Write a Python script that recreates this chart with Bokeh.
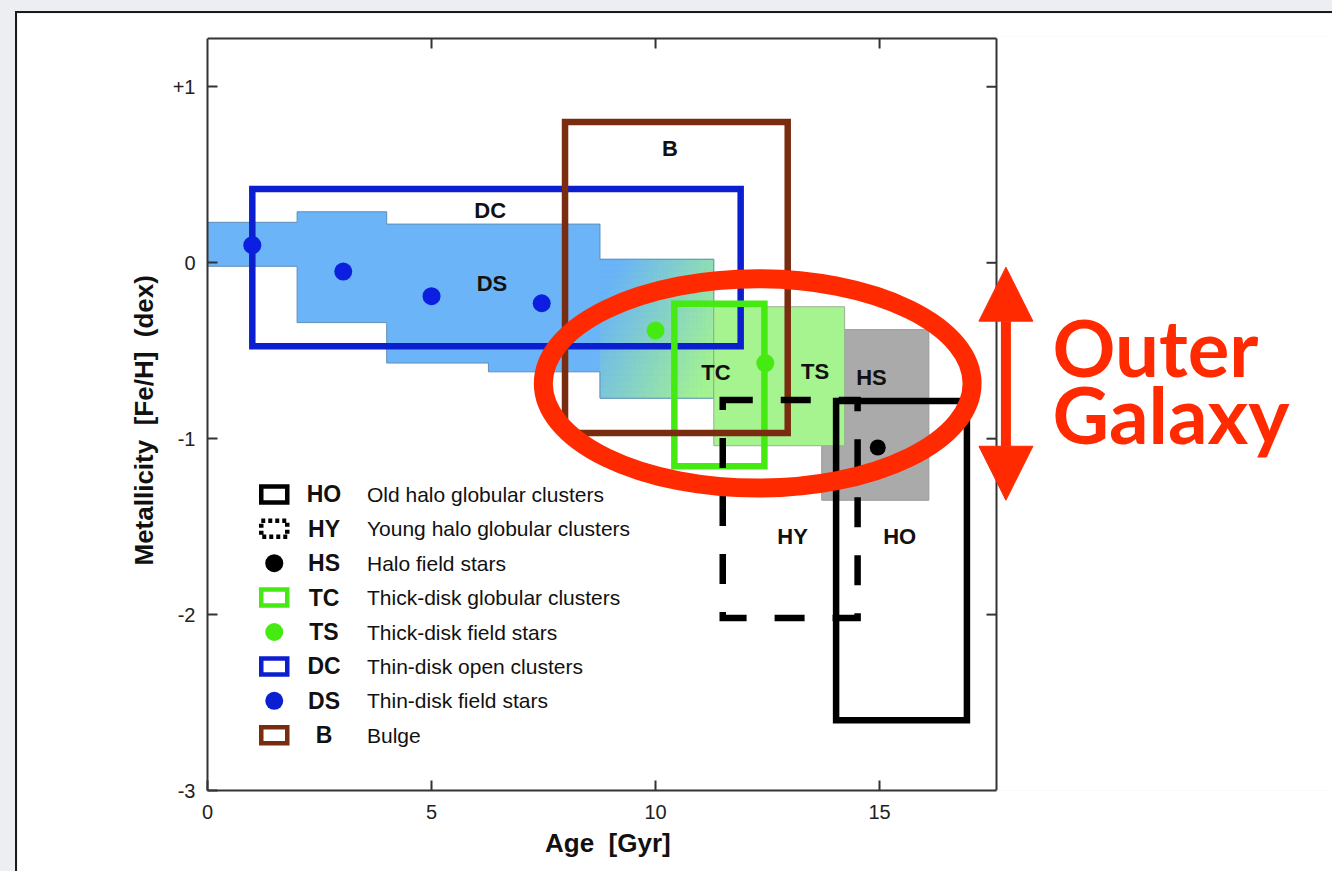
import numpy as np
from bokeh.plotting import figure
from bokeh.models import Range1d, FixedTicker, Arrow, NormalHead, Title
from bokeh.core.properties import value
from bokeh.embed import file_html
from bokeh.resources import INLINE

# ---------------- data ----------------
x_ticks = [0, 5, 10, 15]
y_ticks = [1, 0, -1, -2, -3]
y_tick_labels = ["+1", "0", "-1", "-2", "-3"]
age_axis = [0.0, 17.61]          # chart's age extent (Gyr)
feh_axis = [-3.0, 1.275]         # chart's metallicity extent (dex)

# thin-disk field stars (DS) stepped band
ds_age_edges = [0.0, 2.0, 4.0, 6.27, 8.76, 11.3]
ds_feh_top = [0.23, 0.29, 0.22, 0.22, 0.02]
ds_feh_bottom = [-0.02, -0.34, -0.57, -0.62, -0.77]

# thick-disk field stars (TS) and halo field stars (HS) shaded boxes
ts_box_age = [11.3, 14.22]
ts_box_feh = [-1.04, -0.25]
hs_box_age = [13.71, 16.1]
hs_box_feh = [-1.35, -0.38]

# outlined boxes
box_codes = ["DC", "TC", "B", "HY", "HO"]
box_age_min = [1.0, 10.42, 7.98, 11.5, 14.03]
box_age_max = [11.9, 12.43, 12.95, 14.51, 16.95]
box_feh_min = [-0.475, -1.156, -0.967, -2.02, -2.60]
box_feh_max = [0.42, -0.233, 0.80, -0.78, -0.786]

# points
ds_age = [1.0, 3.03, 5.0, 7.46]
ds_feh = [0.10, -0.05, -0.19, -0.23]
ts_age = [10.0, 12.45]
ts_feh = [-0.385, -0.57]
hs_age = [14.96]
hs_feh = [-1.05]

# region labels
label_names = ["DC", "DS", "B", "TC", "TS", "HS", "HY", "HO"]
label_age = [6.31, 6.35, 10.32, 11.35, 13.56, 14.82, 13.06, 15.45]
label_feh = [0.295, -0.115, 0.652, -0.626, -0.617, -0.655, -1.554, -1.554]

# legend
legend_codes = ["HO", "HY", "HS", "TC", "TS", "DC", "DS", "B"]
legend_texts = ["Old halo globular clusters", "Young halo globular clusters",
                "Halo field stars", "Thick-disk globular clusters",
                "Thick-disk field stars", "Thin-disk open clusters",
                "Thin-disk field stars", "Bulge"]

# annotation
annot_lines = ["Outer", "Galaxy"]
annot_age = 18.86
annot_feh = [-0.48, -0.862]
ellipse_age, ellipse_feh = 12.28, -0.686
ellipse_w, ellipse_h = 9.57, 1.19
arrow_age, arrow_feh_top, arrow_feh_bottom = 17.82, -0.025, -1.35

# ---------------- styles / layout ----------------
RED = "#ff2a00"
BLUE_FILL = (106, 180, 247)
GREEN_FILL = (165, 244, 144)
box_colors = {"DC": "#0c1fd0", "TC": "#45ea12", "B": "#7a2c10", "HY": "#000000", "HO": "#000000"}
box_dash = {"DC": "solid", "TC": "solid", "B": "solid", "HY": "30 28", "HO": "solid"}
legend_kind = {"HO": ("box", "#000000", "solid"), "HY": ("box", "#000000", "4 3"),
               "HS": ("dot", "#000000", None), "TC": ("box", "#45ea12", "solid"),
               "TS": ("dot", "#45ea12", None), "DC": ("box", "#0c1fd0", "solid"),
               "DS": ("dot", "#0c1fd0", None), "B": ("box", "#7a2c10", "solid")}
FONT = "Liberation Sans"
AX = "#333333"

CANVAS_W, CANVAS_H = 1315, 858
LEFT, BOTTOM, TOP = 190, 81, 23
CHART_W, CHART_H = 789, 752            # pixel size of the boxed chart area
FRAME_W = CANVAS_W - LEFT
FRAME_H = CANVAS_H - BOTTOM - TOP
px_x = CHART_W / (age_axis[1] - age_axis[0])
px_y = CHART_H / (feh_axis[1] - feh_axis[0])

p = figure(frame_width=FRAME_W, frame_height=FRAME_H,
           x_range=Range1d(age_axis[0], age_axis[0] + FRAME_W / px_x),
           y_range=Range1d(feh_axis[0], feh_axis[0] + FRAME_H / px_y),
           output_backend="svg", toolbar_location=None,
           min_border_left=LEFT, min_border_right=0,
           min_border_top=TOP, min_border_bottom=BOTTOM,
           background_fill_color="white", border_fill_color="white",
           outline_line_color=None)
p.grid.visible = False

xa, ya = p.xaxis[0], p.yaxis[0]
for ax in (xa, ya):
    ax.major_tick_in = 10
    ax.major_tick_out = 0
    ax.minor_tick_line_color = None
    ax.axis_line_color = AX
    ax.axis_line_width = 2
    ax.major_tick_line_color = AX
    ax.major_tick_line_width = 2
    ax.major_label_text_font = FONT
    ax.major_label_text_font_size = "20px"
    ax.major_label_text_color = "#222222"
xa.bounds = (age_axis[0], age_axis[1])
ya.bounds = (feh_axis[0], feh_axis[1])
xa.ticker = FixedTicker(ticks=x_ticks)
ya.ticker = FixedTicker(ticks=y_ticks)
ya.major_label_overrides = dict(zip(y_ticks, y_tick_labels))
xa.major_label_standoff = 14
ya.major_label_standoff = 12

# axis titles, positioned relative to the boxed chart (the frame extends further right)
x_title = "Age\u00a0\u00a0[Gyr]"
x_title_px = 124
y_title = "Metallicity\u00a0\u00a0[Fe/H]\u00a0\u00a0(dex)"
y_title_px = 288
p.add_layout(Title(text=x_title, align="left",
                   offset=CHART_W / 2 - x_title_px / 2 + 5,
                   text_font=FONT, text_font_style="bold", text_font_size="26px",
                   text_color="#111111", standoff=9), "below")
p.add_layout(Title(text=y_title, align="left",
                   offset=CHART_H / 2 - y_title_px / 2 - 7,
                   text_font=FONT, text_font_style="bold", text_font_size="26px",
                   text_color="#111111", standoff=22), "left")

# DS stepped band
poly_x, poly_y = [], []
for i in range(len(ds_feh_top)):
    poly_x += [ds_age_edges[i], ds_age_edges[i + 1]]
    poly_y += [ds_feh_top[i], ds_feh_top[i]]
for i in reversed(range(len(ds_feh_bottom))):
    poly_x += [ds_age_edges[i + 1], ds_age_edges[i]]
    poly_y += [ds_feh_bottom[i], ds_feh_bottom[i]]
blue_hex = "#%02x%02x%02x" % BLUE_FILL
green_hex = "#%02x%02x%02x" % GREEN_FILL
p.patch(poly_x, poly_y, fill_color=blue_hex, line_color=None)

# blue -> green blend in the last DS bin
g_a0, g_a1 = ds_age_edges[-2], ds_age_edges[-1]
g_top, g_bot = ds_feh_top[-1], ds_feh_bottom[-1]
nx, ny = 40, 24
xe = np.linspace(g_a0, g_a1, nx + 1)
ye = np.linspace(g_bot, g_top, ny + 1)
L, R, B, T, C = [], [], [], [], []
for i in range(nx):
    for j in range(ny):
        u = (0.5 * (xe[i] + xe[i + 1]) - g_a0) / (g_a1 - g_a0)
        v = (g_top - 0.5 * (ye[j] + ye[j + 1])) / (g_top - g_bot)
        t = min(max(0.8 * u + 0.45 * v - 0.15, 0.0), 1.0)
        c = tuple(int(round(BLUE_FILL[k] + t * (GREEN_FILL[k] - BLUE_FILL[k]))) for k in range(3))
        L.append(xe[i]); R.append(xe[i + 1]); B.append(ye[j]); T.append(ye[j + 1])
        C.append("#%02x%02x%02x" % c)
p.quad(left=L, right=R, bottom=B, top=T, fill_color=C, line_color=C, line_width=0.6)
p.line(poly_x + poly_x[:1], poly_y + poly_y[:1], line_color="#5f8fb8", line_width=1)

# HS and TS shaded boxes
p.quad(left=[hs_box_age[0]], right=[hs_box_age[1]], bottom=[hs_box_feh[0]], top=[hs_box_feh[1]],
       fill_color="#aaaaaa", line_color="#999999", line_width=1)
p.quad(left=[ts_box_age[0]], right=[ts_box_age[1]], bottom=[ts_box_feh[0]], top=[ts_box_feh[1]],
       fill_color=green_hex, line_color="#9ab090", line_width=1)

# outlined boxes
for code, a0, a1, f0, f1 in zip(box_codes, box_age_min, box_age_max, box_feh_min, box_feh_max):
    p.quad(left=[a0], right=[a1], bottom=[f0], top=[f1], fill_color=None,
           line_color=box_colors[code], line_width=6.5, line_dash=box_dash[code],
           line_join="miter")

# points
p.scatter(ds_age, ds_feh, size=18, fill_color="#0c1fe0", line_color=None)
p.scatter(ts_age, ts_feh, size=18, fill_color="#45ea12", line_color=None)
p.scatter(hs_age, hs_feh, size=16, fill_color="#000000", line_color=None)

# top and right sides of the chart box, with inward ticks
p.segment(x0=[age_axis[0], age_axis[1]], y0=[feh_axis[1], feh_axis[0]],
          x1=[age_axis[1], age_axis[1]], y1=[feh_axis[1], feh_axis[1]],
          line_color=AX, line_width=2)
top_ticks = [t for t in x_ticks if age_axis[0] < t < age_axis[1]]
p.segment(x0=top_ticks, y0=[feh_axis[1]] * len(top_ticks), x1=top_ticks,
          y1=[feh_axis[1] - 10 / px_y] * len(top_ticks), line_color=AX, line_width=2)
right_ticks = [t for t in y_ticks if feh_axis[0] < t < feh_axis[1]]
p.segment(x0=[age_axis[1]] * len(right_ticks), y0=right_ticks,
          x1=[age_axis[1] - 10 / px_x] * len(right_ticks), y1=right_ticks,
          line_color=AX, line_width=2)

# region labels
p.text(label_age, label_feh, text=label_names, text_font=value(FONT), text_font_style="bold",
       text_font_size="22px", text_align="center", text_baseline="middle", text_color="#111111")

# legend (drawn in data coordinates)
leg_feh0, leg_step = -1.317, 0.1955
leg_sym_age, leg_code_age, leg_text_age = 1.49, 2.6, 3.56
leg_y = [leg_feh0 - i * leg_step for i in range(len(legend_codes))]
for code, yy in zip(legend_codes, leg_y):
    kind, col, dash = legend_kind[code]
    if kind == "box":
        p.rect([leg_sym_age], [yy], width=26, height=16, width_units="screen",
               height_units="screen", fill_color="white", line_color=col,
               line_width=4.5, line_dash=dash, line_join="miter")
    else:
        p.scatter([leg_sym_age], [yy], size=18, fill_color=col, line_color=None)
p.text([leg_code_age] * len(legend_codes), leg_y, text=legend_codes,
       text_font=value(FONT), text_font_style="bold", text_font_size="23px",
       text_align="center", text_baseline="middle", text_color="#111111")
p.text([leg_text_age] * len(legend_texts), leg_y, text=legend_texts,
       text_font=value(FONT), text_font_size="21px",
       text_align="left", text_baseline="middle", text_color="#111111")

# red highlight
p.ellipse(x=[ellipse_age], y=[ellipse_feh], width=[ellipse_w], height=[ellipse_h],
          fill_color=None, line_color=RED, line_width=19)
p.add_layout(Arrow(start=NormalHead(size=54, fill_color=RED, line_color=RED),
                   end=NormalHead(size=54, fill_color=RED, line_color=RED),
                   x_start=arrow_age, y_start=arrow_feh_bottom,
                   x_end=arrow_age, y_end=arrow_feh_top,
                   line_color=RED, line_width=10))
p.text([annot_age] * len(annot_lines), annot_feh, text=annot_lines,
       text_font=value("Lato"), text_font_style="bold", text_font_size="78px",
       text_color=RED, text_align="left", text_baseline="alphabetic")

p.styles = {"border-left": "2px solid #1a1a1a", "border-top": "2px solid #1a1a1a"}

html = file_html(p, INLINE)
html = html.replace(
    "</head>",
    "<style>html,body{background:#eceef1;margin:0;overflow:hidden;}"
    "body{padding:11px 0 0 15px;}</style></head>", 1)
open("out.html", "w").write(html)
